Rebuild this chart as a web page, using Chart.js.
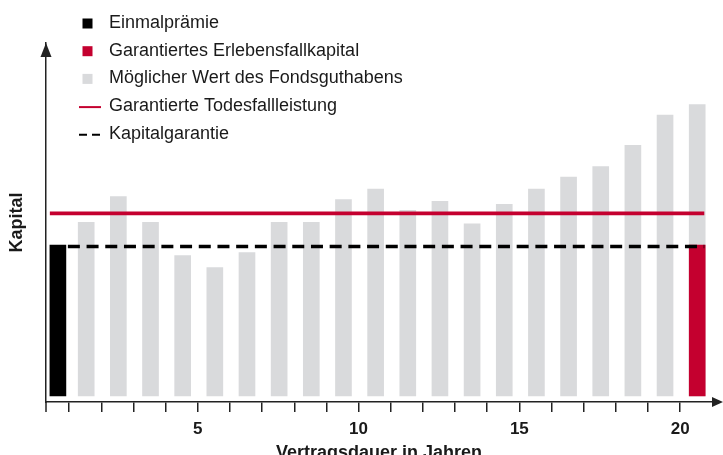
<!DOCTYPE html>
<html>
<head>
<meta charset="utf-8">
<script src="https://cdn.jsdelivr.net/npm/chart.js@4"></script>
<style>
  html, body { margin: 0; padding: 0; background: #fff; overflow: hidden; }
  #wrap { position: relative; width: 723px; height: 464px; }
</style>
</head>
<body>
<div id="wrap"><canvas id="chart"></canvas></div>
<script>
// data (Einmalprämie = 100)
const years = [1, 2, 3, 4, 5, 6, 7, 8, 9, 10, 11, 12, 13, 14, 15, 16, 17, 18, 19, 20];
const fundValues = [115, 132, 115, 93, 85, 95, 115, 115, 130, 137, 123, 129, 114, 127, 137, 145, 152, 166, 186, 193];
const premium = [100];
const maturityGuarantee = [100];
const deathBenefit = [121];
const capitalGuarantee = [99];
const xTickLabels = [5, 10, 15, 20];

const FONT = '"Liberation Sans", Arial, Helvetica, sans-serif';
const TEXT = '#1a1a1a';
const AXIS = '#222';
const RED = '#c4002f';
const GREY = '#d9dadc';

// bars sit in the middle of each year slot, the premium bar a bit to the right in slot 0
const slot = y => y + 0.53;

const datasets = [
  {
    type: 'line', label: 'Kapitalgarantie', order: 0,
    data: [{ x: 0.96, y: capitalGuarantee[0] }, { x: 20.75, y: capitalGuarantee[0] }],
    borderColor: '#000', borderWidth: 3.5, borderDash: [12, 6.7], pointRadius: 0, borderCapStyle: 'butt'
  },
  {
    type: 'line', label: 'Garantierte Todesfallleistung', order: 1,
    data: [{ x: 0.4, y: deathBenefit[0] }, { x: 20.75, y: deathBenefit[0] }],
    borderColor: RED, borderWidth: 3.7, pointRadius: 0, borderCapStyle: 'butt'
  },
  {
    label: 'Garantiertes Erlebensfallkapital', order: 2,
    data: [{ x: slot(20), y: maturityGuarantee[0] }],
    backgroundColor: RED
  },
  {
    label: 'Einmalprämie', order: 3,
    data: [{ x: 0.65, y: premium[0] }],
    backgroundColor: '#000'
  },
  {
    label: 'Möglicher Wert des Fondsguthabens', order: 4,
    data: years.map((y, i) => ({ x: slot(y), y: fundValues[i] })),
    backgroundColor: GREY
  }
];
datasets.forEach(ds => {
  if (!ds.type) Object.assign(ds, { barThickness: 16, grouped: false, borderWidth: 0 });
});

const legendOrder = [3, 2, 4, 1, 0];

const legendPlugin = {
  id: 'sideLegend',
  afterDraw(chart) {
    const ctx = chart.ctx;
    ctx.save();
    ctx.font = '18px ' + FONT;
    ctx.textBaseline = 'middle';
    legendOrder.forEach((idx, i) => {
      const ds = chart.data.datasets[idx];
      const y = 23 + i * 27.7;
      if (ds.type === 'line') {
        ctx.strokeStyle = ds.borderColor;
        ctx.lineWidth = 2;
        ctx.setLineDash(ds.borderDash ? [8, 5] : []);
        ctx.beginPath();
        ctx.moveTo(79, y + 1);
        ctx.lineTo(101, y + 1);
        ctx.stroke();
        ctx.setLineDash([]);
      } else {
        ctx.fillStyle = ds.backgroundColor;
        ctx.fillRect(82.5, y - 4.5, 10, 10);
      }
      ctx.fillStyle = TEXT;
      ctx.fillText(ds.label, 109, y);
    });
    ctx.restore();
  }
};

const arrowPlugin = {
  id: 'axisArrows',
  afterDraw(chart) {
    const { ctx, chartArea: a } = chart;
    ctx.save();
    ctx.strokeStyle = AXIS;
    ctx.fillStyle = AXIS;
    ctx.lineWidth = 1.5;
    // y axis runs down past the x axis like a tick
    ctx.beginPath();
    ctx.moveTo(a.left, a.bottom);
    ctx.lineTo(a.left, a.bottom + 10);
    ctx.stroke();
    // arrow heads
    ctx.beginPath();
    ctx.moveTo(a.left, a.top);
    ctx.lineTo(a.left - 5.5, a.top + 14);
    ctx.lineTo(a.left + 5.5, a.top + 14);
    ctx.closePath();
    ctx.fill();
    ctx.beginPath();
    ctx.moveTo(723, a.bottom);
    ctx.lineTo(712, a.bottom - 5);
    ctx.lineTo(712, a.bottom + 5);
    ctx.closePath();
    ctx.fill();
    ctx.restore();
  }
};

new Chart(document.getElementById('chart'), {
  type: 'bar',
  data: { datasets },
  options: {
    responsive: true,
    maintainAspectRatio: false,
    animation: false,
    layout: { padding: { top: 43, right: 11, left: 0, bottom: 0 } },
    plugins: { legend: { display: false }, tooltip: { enabled: false } },
    scales: {
      x: {
        type: 'linear',
        min: 0.28,
        max: 20.99,
        offset: false,
        afterFit: s => { s.height = 62; },
        grid: { display: true, offset: false, drawOnChartArea: false, drawTicks: true, tickLength: 10, color: AXIS, lineWidth: 1.5 },
        border: { display: true, color: AXIS, width: 1.5 },
        ticks: {
          stepSize: 1, autoSkip: false, includeBounds: false, maxRotation: 0, padding: 7,
          color: TEXT, font: { family: FONT, size: 17, weight: 'bold' },
          callback: v => xTickLabels.includes(v) ? String(v) : ''
        },
        title: { display: true, text: 'Vertragsdauer in Jahren', color: TEXT, font: { family: FONT, size: 18, weight: 'bold' }, padding: 0 }
      },
      y: {
        min: -4,
        max: 233.8,
        afterFit: s => { s.width = 46; },
        grid: { display: false },
        border: { display: true, color: AXIS, width: 1.5 },
        ticks: { display: false },
        title: { display: true, text: 'Kapital', color: TEXT, font: { family: FONT, size: 18, weight: 'bold' }, padding: { top: 6, bottom: 0 } }
      }
    }
  },
  plugins: [legendPlugin, arrowPlugin]
});
</script>
</body>
</html>
